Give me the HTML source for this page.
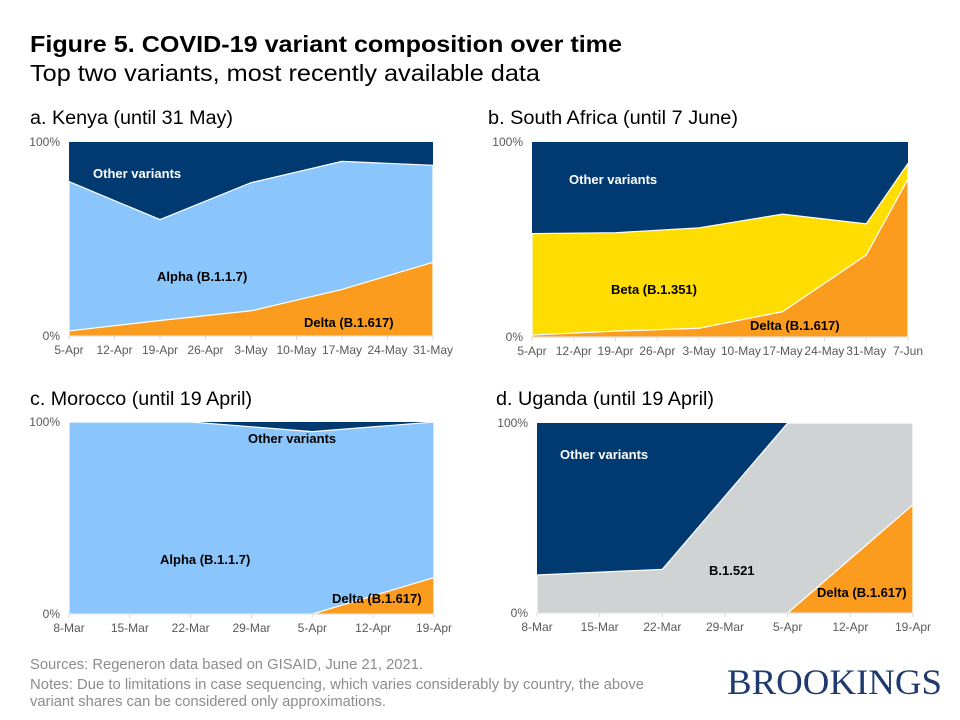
<!DOCTYPE html>
<html><head><meta charset="utf-8">
<style>
body{margin:0;background:#fff;}
svg{display:block;font-family:"Liberation Sans",sans-serif;}
.tick{font-size:12px;fill:#595959;}
.lbl{font-size:13px;font-weight:bold;font-family:"Liberation Sans",sans-serif;}
</style></head><body>
<svg id="page" width="960" height="720" viewBox="0 0 960 720" xmlns="http://www.w3.org/2000/svg">
<text x="30" y="52" font-size="23" font-weight="bold" fill="#000" textLength="592" lengthAdjust="spacingAndGlyphs">Figure 5. COVID-19 variant composition  over time</text>
<text x="30" y="81" font-size="23" fill="#000" textLength="510" lengthAdjust="spacingAndGlyphs">Top two variants, most recently available data</text>
<text x="30" y="124" font-size="19" textLength="203" lengthAdjust="spacingAndGlyphs">a. Kenya (until 31 May)</text>
<text x="488" y="124" font-size="19" textLength="250" lengthAdjust="spacingAndGlyphs">b. South Africa (until 7 June)</text>
<text x="30" y="405" font-size="19" textLength="222" lengthAdjust="spacingAndGlyphs">c. Morocco (until 19 April)</text>
<text x="496" y="405" font-size="19" textLength="218" lengthAdjust="spacingAndGlyphs">d. Uganda  (until 19 April)</text>
<g id="charts"></g>
<g fill="#8c8c8c" font-size="15">
<text x="30" y="669" textLength="393" lengthAdjust="spacingAndGlyphs">Sources: Regeneron data based on GISAID,  June 21, 2021.</text>
<text x="30" y="689" textLength="614" lengthAdjust="spacingAndGlyphs">Notes: Due to limitations in case sequencing, which varies considerably by country, the above</text>
<text x="30" y="706" textLength="356" lengthAdjust="spacingAndGlyphs">variant shares can be considered only approximations.</text>
</g>
<text x="727" y="694" font-size="36" fill="#1f3a6e" font-family="'Liberation Serif',serif" textLength="215" lengthAdjust="spacingAndGlyphs">BROOKINGS</text>
</svg>
<script>
// Panel a: Kenya
const kenyaTicks = ["5-Apr","12-Apr","19-Apr","26-Apr","3-May","10-May","17-May","24-May","31-May"];
const kenyaIdx = [0,2,4,6,8];
const kenyaDelta = [2.6,8,13,24,38];
const kenyaAlpha = [77,52,66,66,50];
// Panel b: South Africa
const saTicks = ["5-Apr","12-Apr","19-Apr","26-Apr","3-May","10-May","17-May","24-May","31-May","7-Jun"];
const saIdx = [0,2,4,6,8,9];
const saDelta = [1,3,4.5,13,42,81];
const saBeta = [52,50.5,51.5,50,16,8];
// Panel c: Morocco
const moTicks = ["8-Mar","15-Mar","22-Mar","29-Mar","5-Apr","12-Apr","19-Apr"];
const moIdx = [0,2,4,6];
const moDelta = [0,0,0,19];
const moAlpha = [100,100,95,81];
// Panel d: Uganda
const ugTicks = ["8-Mar","15-Mar","22-Mar","29-Mar","5-Apr","12-Apr","19-Apr"];
const ugIdx = [0,2,4,6];
const ugDelta = [0,0,0,57];
const ugB1521 = [20,23,100,43];

const NS="http://www.w3.org/2000/svg";
const root=document.getElementById('charts');
function mk(tag,attrs,parent){const e=document.createElementNS(NS,tag);for(const k in attrs)e.setAttribute(k,attrs[k]);parent.appendChild(e);return e;}

function chart(name,box,ticks,idx,lower,middle,colors,labels){
  const g=mk('g',{},root);
  
  
  const xs=i=>box.x0+(box.x1-box.x0)*i/(ticks.length-1);
  const ys=v=>box.y0-(box.y0-box.y1)*v/100;
  const top=mk('rect',{x:box.x0,y:box.y1,width:box.x1-box.x0,height:box.y0-box.y1,fill:'#003a70'},g);
  
  
  const cum=lower.map((v,i)=>v+middle[i]);
  let up=idx.map((t,i)=>xs(t)+','+ys(cum[i])).join(' ');
  let mid=mk('polygon',{points:up+' '+xs(idx[idx.length-1])+','+box.y0+' '+xs(idx[0])+','+box.y0,fill:colors[0],stroke:'#fff','stroke-width':1.2},g);
  
  
  let lo=idx.map((t,i)=>xs(t)+','+ys(lower[i])).join(' ');
  let low=mk('polygon',{points:lo+' '+xs(idx[idx.length-1])+','+box.y0+' '+xs(idx[0])+','+box.y0,fill:'#fb9c1e',stroke:'#fff','stroke-width':1.2},g);
  
  
  mk('line',{x1:box.x0,x2:box.x1,y1:box.y0,y2:box.y0,stroke:'#d9d9d9','stroke-width':1},g);
  ticks.forEach((t,i)=>{
    mk('line',{x1:xs(i),x2:xs(i),y1:box.y0,y2:box.y0+4,stroke:'#d9d9d9'},g);
    const tx=mk('text',{x:xs(i),y:box.y0+18,'text-anchor':'middle',class:'tick'},g);
    tx.textContent=t;
    
    
  });
  [['100%',box.y1+4],['0%',box.y0+4]].forEach(([s,y])=>{
    const tx=mk('text',{x:box.x0-9,y:y,'text-anchor':'end',class:'tick'},g);
    tx.textContent=s;
    
    
  });
  labels.forEach(l=>{
    const tx=mk('text',{x:l.x,y:l.y,class:'lbl',fill:l.c},g);
    tx.textContent=l.t;
    
    
  });
}
chart('chart-kenya',{x0:69,x1:433,y0:336,y1:142},kenyaTicks,kenyaIdx,kenyaDelta,kenyaAlpha,['#8ac5fc'],
 [{key:'alpha',t:'Alpha (B.1.1.7)',x:157,y:281,c:'#000'},{key:'other-variants',t:'Other variants',x:93,y:178,c:'#fff'},{key:'delta',t:'Delta (B.1.617)',x:304,y:327,c:'#000'}]);
chart('chart-south-africa',{x0:532,x1:908,y0:337,y1:142},saTicks,saIdx,saDelta,saBeta,['#ffdd00'],
 [{key:'beta',t:'Beta (B.1.351)',x:611,y:294,c:'#000'},{key:'other-variants',t:'Other variants',x:569,y:184,c:'#fff'},{key:'delta',t:'Delta (B.1.617)',x:750,y:330,c:'#000'}]);
chart('chart-morocco',{x0:69,x1:434,y0:614,y1:422},moTicks,moIdx,moDelta,moAlpha,['#8ac5fc'],
 [{key:'alpha',t:'Alpha (B.1.1.7)',x:160,y:564,c:'#000'},{key:'other-variants',t:'Other variants',x:248,y:443,c:'#000'},{key:'delta',t:'Delta (B.1.617)',x:332,y:603,c:'#000'}]);
chart('chart-uganda',{x0:537,x1:913,y0:613,y1:423},ugTicks,ugIdx,ugDelta,ugB1521,['#d0d3d4'],
 [{key:'b1521',t:'B.1.521',x:709,y:575,c:'#000'},{key:'other-variants',t:'Other variants',x:560,y:459,c:'#fff'},{key:'delta',t:'Delta (B.1.617)',x:817,y:597,c:'#000'}]);
</script>
</body></html>
